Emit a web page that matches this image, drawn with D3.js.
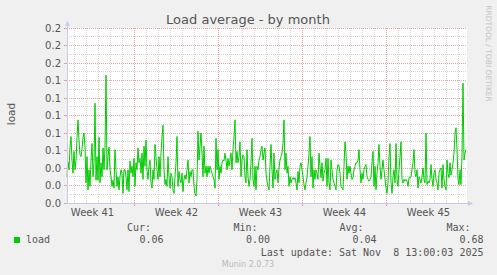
<!DOCTYPE html>
<html><head><meta charset="utf-8">
<script src="https://cdn.jsdelivr.net/npm/d3@7"></script>
<style>body{margin:0;background:#f0f0f0}svg{display:block}text{white-space:pre}</style>
</head><body><svg id="c" width="497" height="275"></svg>
<script>
const chartTitle = "Load average - by month";
const yAxisTitle = "load";
const seriesName = "load";
const endTime = Date.UTC(2025, 10, 8, 17, 0, 0);
const stepHours = 2;
const loadValues = [
0.030,0.047,0.038,0.064,0.076,0.049,0.034,0.059,0.038,0.049,0.075,0.095,0.072,0.055,0.053,0.061,0.075,0.080,0.064,0.023,
0.053,0.015,0.038,0.019,0.049,0.068,0.030,0.046,0.114,0.026,0.053,0.026,0.075,0.023,0.046,0.030,0.063,0.038,0.064,0.146,
0.038,0.053,0.064,0.038,0.030,0.019,0.026,0.017,0.061,0.038,0.019,0.030,0.015,0.030,0.038,0.034,0.011,0.038,
0.038,0.030,0.015,0.038,0.013,0.048,0.034,0.042,0.030,0.051,0.019,0.046,0.038,0.063,0.046,0.051,0.034,0.057,0.027,0.065,
0.042,0.072,0.038,0.027,0.042,0.049,0.023,0.017,0.038,0.027,0.067,0.053,0.038,0.027,0.053,0.030,0.057,0.076,0.089,0.038,
0.021,0.027,0.019,0.053,0.030,0.017,0.034,0.030,0.015,0.011,0.030,0.046,0.076,0.019,0.036,0.027,0.023,0.034,
0.013,0.027,0.032,0.027,0.038,0.049,0.023,0.036,0.030,0.038,0.038,0.019,0.011,0.008,0.027,0.082,0.049,0.065,0.080,0.057,
0.030,0.065,0.034,0.042,0.030,0.042,0.034,0.042,0.038,0.034,0.030,0.027,0.017,0.074,0.038,0.061,0.027,0.042,0.034,0.046,
0.049,0.048,0.057,0.049,0.038,0.051,0.042,0.049,0.057,0.038,0.061,0.076,0.095,0.046,0.059,0.046,0.053,0.070,
0.030,0.049,0.055,0.053,0.030,0.023,0.061,0.030,0.019,0.027,0.046,0.074,0.027,0.019,0.042,0.015,0.042,0.038,0.049,0.053,
0.061,0.065,0.049,0.057,0.063,0.034,0.025,0.019,0.015,0.042,0.067,0.038,0.017,0.057,0.027,0.034,0.038,0.023,0.040,0.049,
0.053,0.057,0.068,0.095,0.038,0.057,0.034,0.042,0.019,0.030,0.023,0.027,0.029,0.027,0.029,0.023,0.015,0.036,
0.023,0.042,0.046,0.038,0.030,0.021,0.015,0.023,0.030,0.042,0.057,0.076,0.030,0.053,0.017,0.038,0.027,0.038,0.034,0.027,
0.057,0.042,0.029,0.046,0.025,0.034,0.038,0.051,0.019,0.051,0.023,0.015,0.049,0.038,0.027,0.023,0.019,0.015,0.038,0.044,
0.042,0.034,0.019,0.017,0.015,0.042,0.070,0.057,0.027,0.042,0.034,0.042,0.034,0.027,0.029,0.038,0.042,0.046,
0.046,0.049,0.061,0.038,0.023,0.034,0.027,0.038,0.042,0.044,0.030,0.027,0.025,0.027,0.030,0.046,0.059,0.019,0.042,0.015,
0.034,0.046,0.067,0.042,0.027,0.038,0.049,0.038,0.027,0.017,0.011,0.023,0.053,0.068,0.023,0.011,0.030,0.038,0.023,0.068,
0.027,0.019,0.038,0.053,0.070,0.027,0.023,0.027,0.025,0.027,0.025,0.019,0.029,0.029,0.030,0.038,0.046,0.061,
0.034,0.030,0.038,0.017,0.030,0.027,0.023,0.030,0.040,0.027,0.023,0.080,0.021,0.025,0.023,0.027,0.044,0.027,0.019,0.034,
0.038,0.027,0.023,0.015,0.034,0.038,0.040,0.017,0.044,0.027,0.019,0.015,0.049,0.034,0.029,0.046,0.032,0.038,0.046,0.057,
0.080,0.086,0.061,0.027,0.021,0.038,0.021,0.055,0.137,0.049,0.057,0.061
];
const yMajorTicks = [0,0.02,0.04,0.06,0.08,0.10,0.12,0.14,0.16,0.18,0.20];
const yMinorTicks = [0.01,0.03,0.05,0.07,0.09,0.11,0.13,0.15,0.17,0.19];
const legendHeaders = ["Cur:","Min:","Avg:","Max:"];
const legendValues = ["0.06","0.00","0.04","0.68"];
const lastUpdate = "Last update: Sat Nov  8 13:00:03 2025";
const footer = "Munin 2.0.73";
const sideText = "RRDTOOL / TOBI OETIKER";

const svg = d3.select("#c");
const L = 67, R = 467, T = 28, B = 203;
const HOUR = 3600e3;
const startTime = endTime - 400 * stepHours * HOUR;
const x = d3.scaleUtc().domain([startTime, endTime]).range([L, R]);
const y = d3.scaleLinear().domain([0, 0.2]).range([B, T]);
const data = loadValues.map((v, i) => ({t: startTime + i * stepHours * HOUR, v}));
const px = v => Math.floor(v) + 0.5;
const font = "DejaVu Sans, sans-serif";
const mono = "DejaVu Sans Mono, monospace";
const majorColor = "#e6a0a0", minorColor = "#d2d2d2";

svg.append("rect").attr("width", 497).attr("height", 275).attr("fill", "#f0f0f0");
svg.append("rect").attr("x", L).attr("y", T).attr("width", R - L).attr("height", B - T).attr("fill", "#ffffff");

const sundays = d3.utcSunday.range(new Date(startTime), new Date(endTime));
const sundaySet = new Set(sundays.map(d => +d));
const days = d3.utcDay.range(new Date(startTime), new Date(endTime)).filter(d => !sundaySet.has(+d));

const g = svg.append("g").attr("shape-rendering", "crispEdges");
g.selectAll(".ym").data(yMinorTicks).join("line")
  .attr("x1", L).attr("x2", R).attr("y1", d => px(y(d))).attr("y2", d => px(y(d)))
  .attr("stroke", minorColor).attr("stroke-dasharray", "1,1");
g.selectAll(".xm").data(days).join("line")
  .attr("x1", d => px(x(d))).attr("x2", d => px(x(d))).attr("y1", T).attr("y2", B)
  .attr("stroke", minorColor).attr("stroke-dasharray", "1,1");
g.selectAll(".yM").data(yMajorTicks).join("line")
  .attr("x1", L).attr("x2", R).attr("y1", d => px(y(d))).attr("y2", d => px(y(d)))
  .attr("stroke", majorColor).attr("stroke-dasharray", "1,1");
g.selectAll(".xM").data(sundays).join("line")
  .attr("x1", d => px(x(d))).attr("x2", d => px(x(d))).attr("y1", T).attr("y2", B)
  .attr("stroke", majorColor).attr("stroke-dasharray", "1,1");
g.selectAll(".xt").data(sundays).join("line")
  .attr("x1", d => px(x(d))).attr("x2", d => px(x(d))).attr("y1", B).attr("y2", B + 3)
  .attr("stroke", majorColor);
g.selectAll(".yt").data(yMajorTicks).join("line")
  .attr("x1", L - 3).attr("x2", L).attr("y1", d => px(y(d))).attr("y2", d => px(y(d)))
  .attr("stroke", majorColor);

svg.append("g").selectAll("text").data(yMajorTicks).join("text")
  .attr("x", 61).attr("y", d => y(d) + 3.6).attr("text-anchor", "end")
  .attr("font-family", font).attr("font-size", 10).attr("fill", "#555")
  .text(d => d3.format(".1f")(d));

const labelTimes = d3.utcSunday.range(d3.utcSunday.floor(new Date(startTime)), new Date(endTime))
  .map(d => new Date(+d + 3.5 * 24 * HOUR)).filter(d => +d >= startTime && +d <= endTime);
svg.append("g").selectAll("text").data(labelTimes).join("text")
  .attr("x", d => x(d)).attr("y", 215.5).attr("text-anchor", "middle")
  .attr("font-family", font).attr("font-size", 10).attr("fill", "#555")
  .text(d => "Week " + d3.utcFormat("%V")(d));

svg.append("path").datum(data)
  .attr("d", d3.line().x(d => x(d.t)).y(d => y(d.v)))
  .attr("fill", "none").attr("stroke", "#00cc00").attr("stroke-width", 1);

const axisColor = "#c8c8f0";
svg.append("line").attr("x1", L + 0.5).attr("x2", L + 0.5).attr("y1", B).attr("y2", 24).attr("stroke", axisColor);
svg.append("line").attr("x1", L).attr("x2", 470).attr("y1", B + 0.5).attr("y2", B + 0.5).attr("stroke", axisColor);
svg.append("path").attr("d", `M${L - 2},26 L${L + 0.5},21 L${L + 3},26 Z`).attr("fill", axisColor);
svg.append("path").attr("d", `M468,${B - 2} L473,${B + 0.5} L468,${B + 3} Z`).attr("fill", axisColor);

svg.append("text").attr("x", 248).attr("y", 24).attr("text-anchor", "middle")
  .attr("font-family", font).attr("font-size", 13).attr("fill", "#555").text(chartTitle);
svg.append("text").attr("transform", "translate(15,114) rotate(-90)").attr("text-anchor", "middle")
  .attr("font-family", font).attr("font-size", 10.5).attr("fill", "#555").text(yAxisTitle);
svg.append("text").attr("transform", "translate(485.5,53.5) rotate(90)").attr("text-anchor", "middle")
  .attr("font-family", font).attr("font-size", 7.5).attr("fill", "#c4c4c4").text(sideText);

const headerEnds = [151, 257.5, 363.5, 470.5];
const valueEnds = [163.5, 270, 376.5, 483.5];
svg.append("g").selectAll("text").data(legendHeaders).join("text")
  .attr("x", (d, i) => headerEnds[i]).attr("y", 231).attr("text-anchor", "end")
  .attr("font-family", mono).attr("font-size", 10).attr("fill", "#555").text(d => d);
svg.append("g").selectAll("text").data(legendValues).join("text")
  .attr("x", (d, i) => valueEnds[i]).attr("y", 243).attr("text-anchor", "end")
  .attr("font-family", mono).attr("font-size", 10).attr("fill", "#555").text(d => d);
svg.append("rect").attr("x", 14).attr("y", 237).attr("width", 6).attr("height", 6).attr("fill", "#00cc00");
svg.append("text").attr("x", 26).attr("y", 243).attr("font-family", mono).attr("font-size", 10)
  .attr("fill", "#555").text(seriesName);
svg.append("text").attr("x", 483.5).attr("y", 255.5).attr("text-anchor", "end")
  .attr("font-family", mono).attr("font-size", 10).attr("fill", "#555").text(lastUpdate);
svg.append("text").attr("x", 248).attr("y", 266.5).attr("text-anchor", "middle")
  .attr("font-family", font).attr("font-size", 8).attr("fill", "#b8b8b8").text(footer);
</script></body></html>
